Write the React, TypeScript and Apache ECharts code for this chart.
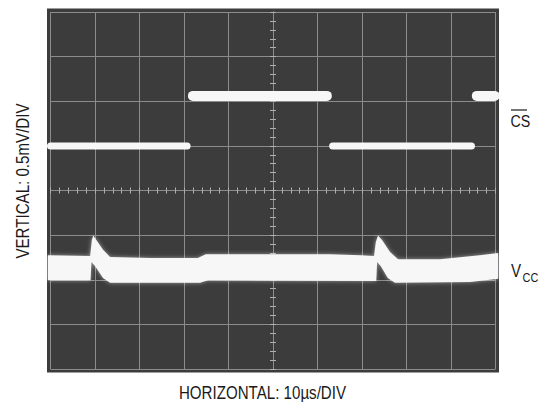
import React, { useEffect, useRef } from "react";
import * as echarts from "echarts";

// Graticule: 10 x 8 divisions, centred on (0, 0)
const xRange = [-5, 5];
const yRange = [-4, 4];

// CS trace (levels in divisions, segment starts/ends in divisions)
const csLowLevel = 1.0;
const csHighLevel = 2.12;
const csLowStart = [-5.0, 1.34];
const csLowEnd = [-1.93, 4.46];
const csHighStart = [-1.8, 4.58];
const csHighEnd = [1.21, 4.98];

// VCC trace: upper and lower edge of the noisy band
const vccUpperX = [-5.06, -4.11, -4.07, -4.04, -3.97, -3.82, -3.66, -2.76, -1.69, -1.51, 1.28, 1.96, 2.27, 2.31, 2.36, 2.45, 2.63, 2.81, 3.75, 4.65, 5.06];
const vccUpperY = [-1.45, -1.47, -1.11, -1.01, -1.11, -1.33, -1.49, -1.51, -1.51, -1.43, -1.43, -1.45, -1.47, -1.16, -1.01, -1.11, -1.38, -1.54, -1.54, -1.45, -1.4];
const vccLowerX = [-5.06, -4.1, -4.08, -4.0, -3.82, -3.66, -1.64, -1.46, 2.32, 2.34, 2.42, 2.58, 2.74, 4.43, 5.06];
const vccLowerY = [-2.01, -2.01, -1.6, -1.69, -1.96, -2.07, -2.07, -2.01, -2.03, -1.6, -1.69, -1.96, -2.07, -2.05, -1.98];

const FONT = '"Liberation Sans", Arial, sans-serif';
const NARROW = 0.84;
const screenColor = "#3c3c3c";
const gridColor = "#8c8c8c";
const traceColor = "#f7f7f7";
const textColor = "#1a1a1a";

function axis(min: number, max: number, position: string, inside: boolean, split: boolean) {
  return {
    type: "value",
    min,
    max,
    interval: 1,
    position,
    axisLabel: { show: false },
    splitLine: { show: split, lineStyle: { color: gridColor, width: 1 } },
    axisLine: { show: true, onZero: true, lineStyle: { color: gridColor, width: 1 } },
    axisTick: { show: true, inside, length: 3, lineStyle: { color: "#b0b0b0", width: 1 } },
    minorTick: { show: true, splitNumber: 5, length: 3, lineStyle: { color: "#b0b0b0", width: 1 } },
  };
}

function csSeries(starts: number[], ends: number[], level: number, width: number, name: string) {
  return starts.map((s, i) => ({
    type: "line",
    name,
    data: [
      [s, level],
      [ends[i], level],
    ],
    symbol: "none",
    clip: false,
    silent: true,
    lineStyle: {
      color: traceColor,
      width,
      cap: "round",
    },
  }));
}

function label(text: string, x: number, y: number, size: number, align: string, rotation = 0) {
  return {
    type: "text",
    x,
    y,
    rotation,
    scaleX: NARROW,
    style: {
      text,
      font: `${size}px ${FONT}`,
      fill: textColor,
      align,
      verticalAlign: "middle",
    },
  };
}

export default function App() {
  const ref = useRef<HTMLDivElement>(null);
  useEffect(() => {
    if (!ref.current) return;
    const chart = echarts.init(ref.current, null, { renderer: "svg" });
    chart.setOption({
      animation: false,
      backgroundColor: "#ffffff",
      grid: {
        left: 50.5,
        right: 46.5,
        top: 12,
        bottom: 33,
        show: true,
        backgroundColor: screenColor,
        borderColor: screenColor,
        borderWidth: 7,
      },
      xAxis: [
        axis(xRange[0], xRange[1], "bottom", false, true),
        axis(xRange[0], xRange[1], "bottom", true, false),
      ],
      yAxis: [
        axis(yRange[0], yRange[1], "left", false, true),
        axis(yRange[0], yRange[1], "left", true, false),
      ],
      series: [
        {
          type: "custom",
          name: "VCC",
          coordinateSystem: "cartesian2d",
          data: [[0, 0]],
          clip: false,
          silent: true,
          renderItem: (_params: any, api: any) => {
            const upper = vccUpperX.map((x, i) => api.coord([x, vccUpperY[i]]));
            const lower = vccLowerX.map((x, i) => api.coord([x, vccLowerY[i]])).reverse();
            return {
              type: "polygon",
              shape: { points: upper.concat(lower) },
              style: {
                fill: traceColor,
                shadowBlur: 4,
                shadowColor: "rgba(255,255,255,0.5)",
              },
            };
          },
        },
        ...csSeries(csLowStart, csLowEnd, csLowLevel, 7, "CS"),
        ...csSeries(csHighStart, csHighEnd, csHighLevel, 10, "CS"),
      ],
      graphic: [
        label("HORIZONTAL: 10µs/DIV", 262.5, 393, 18, "center"),
        label("VERTICAL: 0.5mV/DIV", 23, 181, 18, "center", Math.PI / 2),
        label("CS", 510.5, 121, 17, "left"),
        {
          type: "line",
          shape: { x1: 511, y1: 110, x2: 527, y2: 110 },
          style: { stroke: textColor, lineWidth: 1.2 },
        },
        label("V", 511, 271, 18, "left"),
        label("CC", 522.5, 278, 13, "left"),
      ],
    });
    return () => chart.dispose();
  }, []);
  return (
    <div
      ref={ref}
      style={{ position: "fixed", left: 0, top: 0, width: 542, height: 402 }}
    />
  );
}
